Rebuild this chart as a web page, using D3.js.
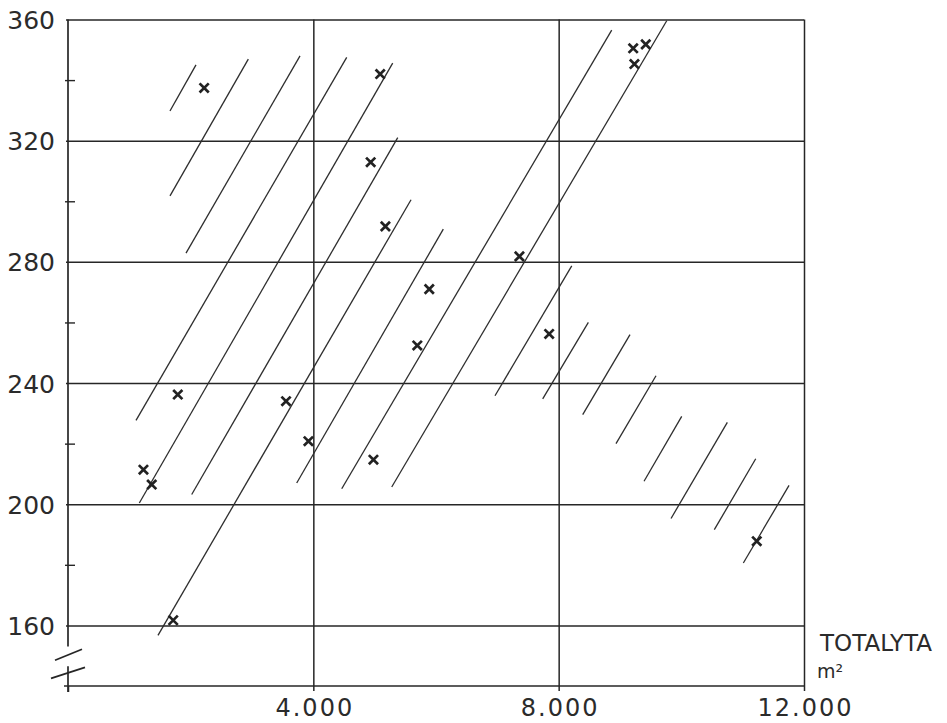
<!DOCTYPE html>
<html>
<head>
<meta charset="utf-8">
<script src="https://cdn.jsdelivr.net/npm/d3@7/dist/d3.min.js"></script>
<style>
  html, body { margin: 0; padding: 0; background: #ffffff; }
  svg { display: block; }
  .lbl { font-family: "DejaVu Sans", sans-serif; fill: #2b2b2b; }
</style>
</head>
<body>
<svg id="chart" width="947" height="723"></svg>
<script>
// Observations: total area (m²) against the value on the vertical axis
const pointX = [2220, 5090, 4935, 5175, 5890, 5695, 7360, 7845, 9215, 9420, 9235,
                1790, 1230, 1365, 3555, 3920, 4980, 1715, 11230];
const pointY = [337.4, 342.0, 312.9, 291.7, 271.0, 252.4, 281.8, 256.2, 350.5, 351.8, 345.3,
                236.2, 211.4, 206.5, 234.0, 220.8, 214.7, 161.7, 187.8];

// Parallel guide lines (start and end, in data units)
const lineX1 = [1663, 1663, 1924, 1109, 1163, 2017, 1467, 3729, 4463, 5278,
                6962, 7740, 8392, 8935, 9392, 9832, 10538, 11011];
const lineY1 = [329.8, 301.8, 282.9, 227.7, 200.4, 203.2, 156.7, 207.0, 205.1, 205.7,
                235.8, 234.8, 229.6, 220.0, 207.6, 195.3, 191.6, 180.6];
const lineX2 = [2087, 2940, 3783, 4544, 5294, 5376, 5593, 6119, 8865, 9762,
                8213, 8484, 9163, 9587, 10006, 10750, 11213, 11756];
const lineY2 = [345.0, 346.9, 348.0, 347.5, 345.6, 321.0, 300.5, 290.8, 356.5, 359.6,
                278.7, 260.0, 256.0, 242.4, 229.0, 227.0, 215.0, 206.2];

// Axis ticks and labels
const xTicks = [0, 4000, 8000, 12000];
const xTickLabels = ["", "4.000", "8.000", "12.000"];
const yTicks = [160, 180, 200, 220, 240, 260, 280, 300, 320, 340, 360];
const yMajor = [160, 200, 240, 280, 320, 360];
const yTickLabels = ["160", "200", "240", "280", "320", "360"];
const xTitle = "TOTALYTA";
const xUnit = "m²";

const svg = d3.select("#chart");
const ink = "#262626";

const x = d3.scaleLinear().domain([0, 12000]).range([68, 804]);
const y = d3.scaleLinear().domain([140, 360]).range([686, 19.5]);

const plotTop = y(360), plotBottom = y(140);
const left = x(0), right = x(12000);

// Horizontal grid + y ticks via the y axis
const yAxis = d3.axisLeft(y)
  .tickValues(yTicks)
  .tickSize(0)
  .tickFormat(d => {
    const i = yMajor.indexOf(d);
    return i >= 0 ? yTickLabels[i] : "";
  });

const gy = svg.append("g")
  .attr("transform", `translate(${left},0)`)
  .call(yAxis);
gy.select(".domain").remove();
gy.selectAll(".tick line")
  .attr("stroke", ink)
  .attr("stroke-width", d => yMajor.includes(d) ? 1.5 : 1.4)
  .attr("x1", d => yMajor.includes(d) ? -2 : -3)
  .attr("x2", d => yMajor.includes(d) ? right - left : 7);
gy.selectAll(".tick text")
  .attr("class", "lbl")
  .attr("x", -13)
  .attr("dy", "0.36em")
  .attr("text-anchor", "end")
  .style("font-size", "25px")
  .style("font-family", "'DejaVu Sans', sans-serif")
  .attr("fill", "#2b2b2b");

// Vertical grid + x ticks via the x axis
const xAxis = d3.axisBottom(x)
  .tickValues(xTicks)
  .tickSize(0)
  .tickFormat((d, i) => xTickLabels[i]);

const gx = svg.append("g")
  .attr("transform", `translate(0,${plotBottom})`)
  .call(xAxis);
gx.select(".domain").remove();
gx.selectAll(".tick line")
  .attr("stroke", ink)
  .attr("stroke-width", 1.5)
  .attr("y1", d => d === 0 ? 0 : plotTop - plotBottom)
  .attr("y2", d => d === 0 ? 6 : 5);
gx.selectAll(".tick text")
  .attr("class", "lbl")
  .attr("y", 29.5)
  .attr("dy", 0)
  .attr("dx", 1)
  .style("font-size", "24px")
  .style("letter-spacing", "2px")
  .style("font-family", "'DejaVu Sans', sans-serif")
  .attr("fill", "#2b2b2b");

// Bottom axis line
svg.append("line")
  .attr("x1", left - 4).attr("x2", right)
  .attr("y1", plotBottom).attr("y2", plotBottom)
  .attr("stroke", ink).attr("stroke-width", 1.6);

// Left axis, broken below 160
const breakTop = y(153), breakBottom = y(146.5);
svg.append("line")
  .attr("x1", left).attr("x2", left)
  .attr("y1", plotTop).attr("y2", breakTop)
  .attr("stroke", ink).attr("stroke-width", 1.7);
svg.append("line")
  .attr("x1", left).attr("x2", left)
  .attr("y1", breakBottom).attr("y2", plotBottom + 6)
  .attr("stroke", ink).attr("stroke-width", 1.7);

// Break symbol: two parallel slashes
[[y(150.5), 13, 14], [y(144.5), 17, 17]].forEach(([cy, l, r]) => {
  svg.append("line")
    .attr("x1", left - l).attr("y1", cy + 6)
    .attr("x2", left + r).attr("y2", cy - 5)
    .attr("stroke", ink).attr("stroke-width", 1.7);
});

// Guide lines
const segs = lineX1.map((d, i) => ({ x1: d, y1: lineY1[i], x2: lineX2[i], y2: lineY2[i] }));
svg.append("g").selectAll("line")
  .data(segs)
  .join("line")
  .attr("x1", d => x(d.x1)).attr("y1", d => y(d.y1))
  .attr("x2", d => x(d.x2)).attr("y2", d => y(d.y2))
  .attr("stroke", "#2e2e2e")
  .attr("stroke-width", 1.3);

// Observation markers
const pts = pointX.map((d, i) => ({ x: d, y: pointY[i] }));
const s = 4.6;
svg.append("g").selectAll("path")
  .data(pts)
  .join("path")
  .attr("transform", d => `translate(${x(d.x)},${y(d.y)})`)
  .attr("d", `M${-s},${-s}L${s},${s}M${-s},${s}L${s},${-s}`)
  .attr("stroke", "#222")
  .attr("stroke-width", 2.7)
  .attr("fill", "none");

// Axis title with unit
svg.append("text")
  .attr("class", "lbl")
  .attr("x", 820).attr("y", 651)
  .style("font-size", "23px")
  .text(xTitle);
svg.append("text")
  .attr("class", "lbl")
  .attr("x", 817).attr("y", 678)
  .style("font-size", "19px")
  .text(xUnit);
</script>
</body>
</html>
